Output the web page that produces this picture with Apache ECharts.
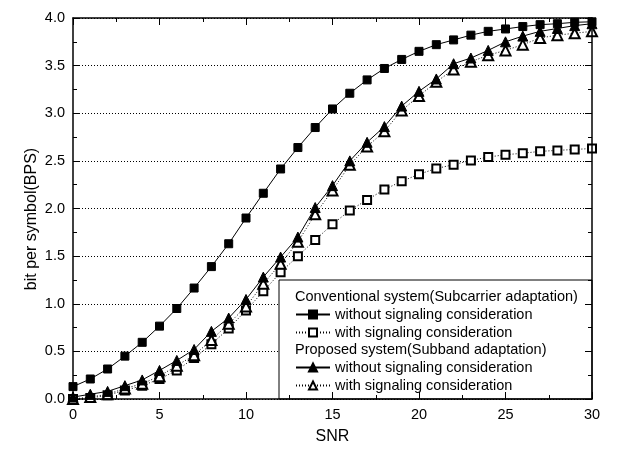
<!DOCTYPE html>
<html>
<head>
<meta charset="utf-8">
<script src="https://cdn.jsdelivr.net/npm/echarts@6/dist/echarts.min.js"></script>
<style>
  html, body { margin: 0; padding: 0; background: #fff; }
  #chart { width: 618px; height: 454px; }
</style>
</head>
<body>
<div id="chart"></div>
<script>
// SNR values (x axis)
var snr = [0, 1, 2, 3, 4, 5, 6, 7, 8, 9, 10, 11, 12, 13, 14, 15, 16, 17, 18, 19, 20, 21, 22, 23, 24, 25, 26, 27, 28, 29, 30];

// Conventional system (Subcarrier adaptation)
var convNoSig = [0.13, 0.21, 0.315, 0.45, 0.595, 0.765, 0.95, 1.165, 1.39, 1.63, 1.90, 2.16, 2.415, 2.64, 2.85, 3.045, 3.21, 3.35, 3.47, 3.565, 3.65, 3.72, 3.77, 3.82, 3.86, 3.885, 3.91, 3.93, 3.94, 3.955, 3.96];
var convSig = [0.0, 0.01, 0.04, 0.09, 0.14, 0.21, 0.30, 0.43, 0.575, 0.74, 0.93, 1.13, 1.33, 1.50, 1.67, 1.835, 1.98, 2.09, 2.20, 2.285, 2.36, 2.42, 2.46, 2.505, 2.54, 2.565, 2.58, 2.60, 2.61, 2.62, 2.63];

// Proposed system (Subband adaptation)
var propNoSig = [0.02, 0.05, 0.08, 0.14, 0.20, 0.30, 0.405, 0.52, 0.71, 0.85, 1.045, 1.28, 1.49, 1.70, 2.01, 2.24, 2.50, 2.695, 2.86, 3.075, 3.23, 3.36, 3.52, 3.58, 3.66, 3.75, 3.81, 3.86, 3.89, 3.92, 3.94];
var propSig = [0.0, 0.02, 0.05, 0.11, 0.16, 0.24, 0.35, 0.46, 0.62, 0.79, 0.97, 1.21, 1.42, 1.65, 1.94, 2.19, 2.46, 2.65, 2.81, 3.03, 3.18, 3.33, 3.46, 3.54, 3.61, 3.66, 3.72, 3.79, 3.82, 3.84, 3.86];

var seriesNames = ['without signaling consideration', 'with signaling consideration', 'without signaling consideration ', 'with signaling consideration '];
var groupTitles = ['Conventional system(Subcarrier adaptation)', 'Proposed system(Subband adaptation)'];

var FONT = "'Liberation Sans', Arial, sans-serif";

function pairs(ys) {
  return snr.map(function (x, i) { return [x, ys[i]]; });
}

var chart = echarts.init(document.getElementById('chart'));

function tickAxis(pos, isX, withLabels) {
  var ax = {
    type: 'value',
    position: pos,
    min: 0,
    max: isX ? 30 : 4,
    interval: isX ? 5 : 0.5,
    z: 5,
    axisLine: { show: true, onZero: false, lineStyle: { color: '#000', width: 1.5 } },
    axisTick: { show: true, inside: true, length: 7, lineStyle: { color: '#000', width: 1 } },
    minorTick: { show: true, splitNumber: 2, length: 4, lineStyle: { color: '#000', width: 1 } },
    splitLine: { show: false },
    axisLabel: {
      show: withLabels,
      color: '#000',
      fontFamily: FONT,
      fontSize: 14.5,
      margin: 8,
      formatter: isX ? function (v) { return String(v); } : function (v) { return v.toFixed(1); }
    }
  };
  return ax;
}

var xBottom = tickAxis('bottom', true, true);
xBottom.name = 'SNR';
xBottom.nameLocation = 'middle';
xBottom.nameGap = 30;
xBottom.nameTextStyle = { color: '#000', fontFamily: FONT, fontSize: 16 };
var xTop = tickAxis('top', true, false);

var yLeft = tickAxis('left', false, true);
var yRight = tickAxis('right', false, false);
// grid lines only, kept under the legend box
var yGrid = {
  type: 'value', position: 'left', min: 0, max: 4, interval: 0.5, z: 0,
  axisLine: { show: false }, axisTick: { show: false }, axisLabel: { show: false },
  splitLine: { show: true, lineStyle: { color: '#000', width: 1, type: [1, 2] } }
};

function mkSeries(name, ys, symbol, size, dotted) {
  return {
    name: name,
    type: 'line',
    xAxisIndex: 0,
    yAxisIndex: 0,
    data: pairs(ys),
    symbol: symbol,
    symbolSize: size,
    showAllSymbol: true,
    clip: false,
    z: 3,
    itemStyle: { color: '#000', borderColor: '#000', borderWidth: 1 },
    lineStyle: { color: '#000', width: 1, type: dotted ? [1, 2] : 'solid' },
    emphasis: { disabled: true }
  };
}

var legendCommon = {
  orient: 'vertical',
  left: 295,
  padding: 0,
  itemWidth: 34,
  itemHeight: 10,
  itemGap: 3,
  selectedMode: false,
  textStyle: { color: '#000', fontFamily: FONT, fontSize: 14.5, lineHeight: 15 }
};

var option = {
  animation: false,
  backgroundColor: '#fff',
  grid: { left: 73, right: 26, top: 18, bottom: 55, containLabel: false },
  xAxis: [xBottom, xTop],
  yAxis: [yLeft, yRight, yGrid],
  legend: [
    Object.assign({}, legendCommon, { top: 307, data: [seriesNames[0], seriesNames[1]] }),
    Object.assign({}, legendCommon, { top: 360, data: [seriesNames[2], seriesNames[3]] })
  ],
  graphic: [
    {
      type: 'rect', z: 1,
      shape: { x: 279, y: 280, width: 313, height: 119 },
      style: { fill: '#fff', stroke: '#000', lineWidth: 1 }
    },
    {
      type: 'text', z: 10, x: 295, y: 297,
      style: { text: groupTitles[0], fill: '#000', font: '14.5px ' + FONT, textVerticalAlign: 'middle' }
    },
    {
      type: 'text', z: 10, x: 295, y: 350,
      style: { text: groupTitles[1], fill: '#000', font: '14.5px ' + FONT, textVerticalAlign: 'middle' }
    },
    {
      type: 'text', z: 10, x: 32, y: 219, rotation: Math.PI / 2,
      style: { text: 'bit per symbol(BPS)', fill: '#000', font: '16px ' + FONT, textAlign: 'center', textVerticalAlign: 'middle' }
    }
  ],
  series: [
    mkSeries(seriesNames[0], convNoSig, 'rect', 8, false),
    mkSeries(seriesNames[1], convSig, 'emptyRect', 8, true),
    mkSeries(seriesNames[3], propSig, 'emptyTriangle', 10, true),
    mkSeries(seriesNames[2], propNoSig, 'triangle', 10, false)
  ]
};

chart.setOption(option);
</script>
</body>
</html>
